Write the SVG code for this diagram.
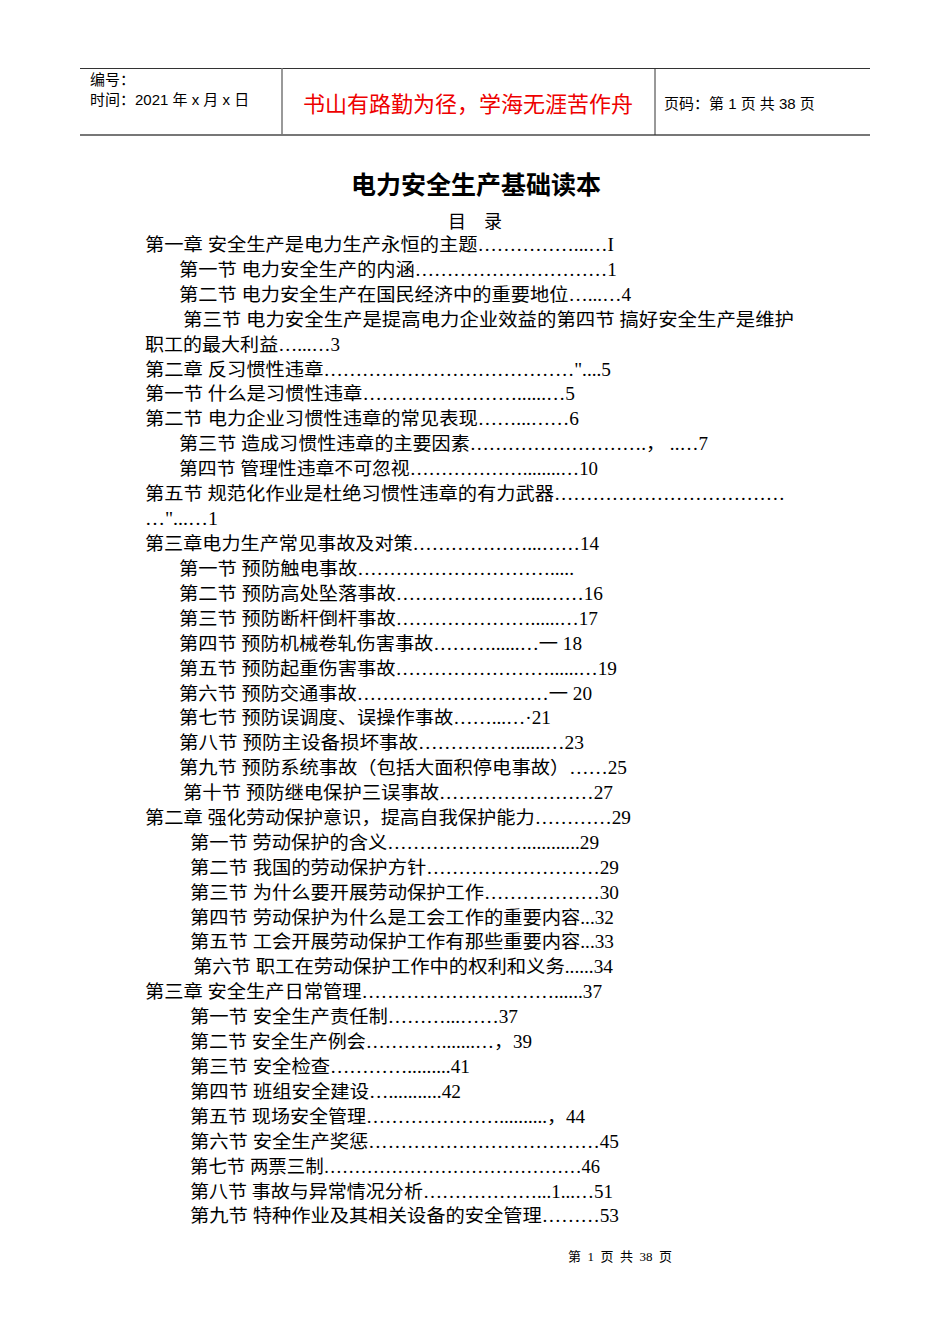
<svg xmlns="http://www.w3.org/2000/svg" width="950" height="1344" viewBox="0 0 950 1344">
<style>
.t{font-family:"Liberation Serif","Noto Sans CJK SC",serif;font-size:18px;fill:#000;white-space:pre}
.h{font-family:"Liberation Sans","Noto Sans CJK SC",sans-serif;font-size:15px;fill:#000}
</style>
<rect width="950" height="1344" fill="#fff"/>
<g id="header">
<line x1="80" y1="68.5" x2="870" y2="68.5" stroke="#333" stroke-width="1"/>
<line x1="80" y1="135" x2="870" y2="135" stroke="#777" stroke-width="2"/>
<line x1="282" y1="68" x2="282" y2="135" stroke="#777" stroke-width="1.5"/>
<line x1="655" y1="68" x2="655" y2="135" stroke="#333" stroke-width="1"/>
<text class="h" x="90" y="85">编号：</text>
<text class="h" x="90" y="105">时间：2021 年 x 月 x 日</text>
<text x="468" y="112" text-anchor="middle" font-family="Noto Sans CJK SC,sans-serif" font-size="22" fill="#e00">书山有路勤为径，学海无涯苦作舟</text>
<text class="h" x="664" y="109">页码：第 1 页  共 38 页</text>
</g>
<text x="476" y="194" text-anchor="middle" font-family="Noto Sans CJK SC,sans-serif" font-weight="bold" font-size="25">电力安全生产基础读本</text>
<text class="t" x="475" y="228" text-anchor="middle">目　录</text>
<g id="toc" class="t">
<text x="145" y="251" textLength="469" lengthAdjust="spacingAndGlyphs">第一章  安全生产是电力生产永恒的主题……………...…I</text>
<text x="179" y="276" textLength="438" lengthAdjust="spacingAndGlyphs">第一节  电力安全生产的内涵…………………………1</text>
<text x="179" y="301" textLength="452" lengthAdjust="spacingAndGlyphs">第二节  电力安全生产在国民经济中的重要地位…...…4</text>
<text x="183" y="326" textLength="611" lengthAdjust="spacingAndGlyphs">第三节  电力安全生产是提高电力企业效益的第四节  搞好安全生产是维护</text>
<text x="145" y="351" textLength="195" lengthAdjust="spacingAndGlyphs">职工的最大利益…...…3</text>
<text x="145" y="376" textLength="466" lengthAdjust="spacingAndGlyphs">第二章  反习惯性违章…………………………………"....5</text>
<text x="145" y="400" textLength="430" lengthAdjust="spacingAndGlyphs">第一节  什么是习惯性违章……………………......…5</text>
<text x="145" y="425" textLength="434" lengthAdjust="spacingAndGlyphs">第二节  电力企业习惯性违章的常见表现……...……6</text>
<text x="179" y="450" textLength="529" lengthAdjust="spacingAndGlyphs">第三节  造成习惯性违章的主要因素……………………….， ..…7</text>
<text x="179" y="475" textLength="419" lengthAdjust="spacingAndGlyphs">第四节  管理性违章不可忽视………………........…10</text>
<text x="145" y="500" textLength="640" lengthAdjust="spacingAndGlyphs">第五节  规范化作业是杜绝习惯性违章的有力武器………………………………</text>
<text x="145" y="525" textLength="73" lengthAdjust="spacingAndGlyphs">…"...…1</text>
<text x="145" y="550" textLength="454" lengthAdjust="spacingAndGlyphs">第三章电力生产常见事故及对策………………...……14</text>
<text x="179" y="575" textLength="395" lengthAdjust="spacingAndGlyphs">第一节  预防触电事故………………………….....</text>
<text x="179" y="600" textLength="424" lengthAdjust="spacingAndGlyphs">第二节  预防高处坠落事故…………………...……16</text>
<text x="179" y="625" textLength="419" lengthAdjust="spacingAndGlyphs">第三节  预防断杆倒杆事故…………………......…17</text>
<text x="179" y="650" textLength="403" lengthAdjust="spacingAndGlyphs">第四节  预防机械卷轧伤害事故………......…一 18</text>
<text x="179" y="675" textLength="438" lengthAdjust="spacingAndGlyphs">第五节  预防起重伤害事故……………………......…19</text>
<text x="179" y="700" textLength="413" lengthAdjust="spacingAndGlyphs">第六节  预防交通事故…………………………一 20</text>
<text x="179" y="724" textLength="372" lengthAdjust="spacingAndGlyphs">第七节  预防误调度、误操作事故……...…·21</text>
<text x="179" y="749" textLength="405" lengthAdjust="spacingAndGlyphs">第八节  预防主设备损坏事故……………......…23</text>
<text x="179" y="774" textLength="448" lengthAdjust="spacingAndGlyphs">第九节  预防系统事故（包括大面积停电事故）……25</text>
<text x="183" y="799" textLength="430" lengthAdjust="spacingAndGlyphs">第十节  预防继电保护三误事故……………………27</text>
<text x="145" y="824" textLength="486" lengthAdjust="spacingAndGlyphs">第二章  强化劳动保护意识，提高自我保护能力…………29</text>
<text x="190" y="849" textLength="409" lengthAdjust="spacingAndGlyphs">第一节  劳动保护的含义…………………............29</text>
<text x="190" y="874" textLength="429" lengthAdjust="spacingAndGlyphs">第二节  我国的劳动保护方针………………………29</text>
<text x="190" y="899" textLength="429" lengthAdjust="spacingAndGlyphs">第三节  为什么要开展劳动保护工作………………30</text>
<text x="190" y="924" textLength="424" lengthAdjust="spacingAndGlyphs">第四节  劳动保护为什么是工会工作的重要内容...32</text>
<text x="190" y="948" textLength="424" lengthAdjust="spacingAndGlyphs">第五节  工会开展劳动保护工作有那些重要内容...33</text>
<text x="193" y="973" textLength="420" lengthAdjust="spacingAndGlyphs">第六节  职工在劳动保护工作中的权利和义务......34</text>
<text x="145" y="998" textLength="457" lengthAdjust="spacingAndGlyphs">第三章  安全生产日常管理…………………………......37</text>
<text x="190" y="1023" textLength="328" lengthAdjust="spacingAndGlyphs">第一节  安全生产责任制………...……37</text>
<text x="190" y="1048" textLength="342" lengthAdjust="spacingAndGlyphs">第二节  安全生产例会………….......…，39</text>
<text x="190" y="1073" textLength="280" lengthAdjust="spacingAndGlyphs">第三节  安全检查………….........41</text>
<text x="190" y="1098" textLength="271" lengthAdjust="spacingAndGlyphs">第四节  班组安全建设…...........42</text>
<text x="190" y="1123" textLength="395" lengthAdjust="spacingAndGlyphs">第五节  现场安全管理…………………..........，44</text>
<text x="190" y="1148" textLength="429" lengthAdjust="spacingAndGlyphs">第六节  安全生产奖惩………………………………45</text>
<text x="190" y="1173" textLength="410" lengthAdjust="spacingAndGlyphs">第七节  两票三制……………………………………46</text>
<text x="190" y="1198" textLength="423" lengthAdjust="spacingAndGlyphs">第八节  事故与异常情况分析………………...1...…51</text>
<text x="190" y="1222" textLength="429" lengthAdjust="spacingAndGlyphs">第九节  特种作业及其相关设备的安全管理………53</text>
</g>
<text x="620" y="1261" text-anchor="middle" font-family="Liberation Serif,Noto Sans CJK SC,serif" font-size="13" style="white-space:pre">第  1  页  共  38  页</text>
</svg>
